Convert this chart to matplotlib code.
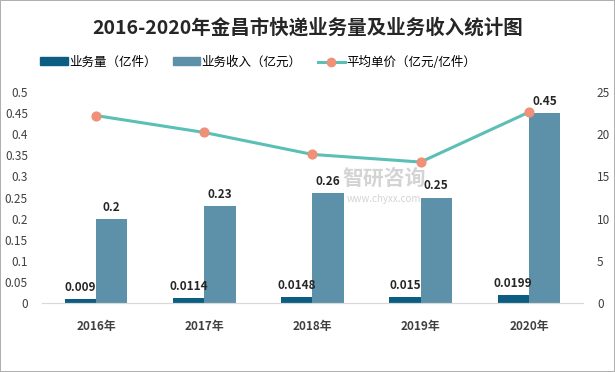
import numpy as np
import matplotlib
matplotlib.use("Agg")
from matplotlib import pyplot as plt
from matplotlib.patches import Patch
from matplotlib.lines import Line2D

plt.rcParams['font.family'] = ['Noto Sans CJK SC', 'DejaVu Sans']

# data
years = ["2016年", "2017年", "2018年", "2019年", "2020年"]
volume = [0.009, 0.0114, 0.0148, 0.015, 0.0199]        # 业务量（亿件）
revenue = [0.2, 0.23, 0.26, 0.25, 0.45]                # 业务收入（亿元）
unit_price = [22.2, 20.2, 17.6, 16.7, 22.6]            # 平均单价（亿元/亿件）
left_ticks = [0, 0.05, 0.1, 0.15, 0.2, 0.25, 0.3, 0.35, 0.4, 0.45, 0.5]
left_labels = ["0", "0.05", "0.1", "0.15", "0.2", "0.25", "0.3", "0.35", "0.4", "0.45", "0.5"]
right_ticks = [0, 5, 10, 15, 20, 25]

C_VOL = '#0b5e82'
C_REV = '#5d90a9'
C_LINE = '#5bbfb5'
C_MARK = '#ef9079'

fig = plt.figure(figsize=(6.15, 3.72), dpi=100, edgecolor='#b0b0b0', linewidth=1.2)
ax = fig.add_axes([0.068, 0.185, 0.88, 0.568])
ax2 = ax.twinx()

# watermark
fig.text(0.625, 0.52, "智研咨询", fontsize=15, color='#d4d4d4', ha='center', va='center',
         fontweight='bold', zorder=0)
fig.text(0.625, 0.465, "www.chyxx.com", fontsize=7, color='#d4d4d4', ha='center', va='center', zorder=0)

x = np.arange(len(years))
w = 0.29
ax.bar(x - w / 2, volume, w, color=C_VOL, zorder=2)
ax.bar(x + w / 2, revenue, w, color=C_REV, zorder=2)

for i in range(len(years)):
    ax.text(x[i] - w / 2, volume[i] + 0.012, str(volume[i]), ha='center', va='bottom',
            fontsize=8.5, fontweight='bold', color='#262626')
    ax.text(x[i] + w / 2, revenue[i] + 0.012, str(revenue[i]), ha='center', va='bottom',
            fontsize=8.5, fontweight='bold', color='#262626')

ax2.plot(x, unit_price, color=C_LINE, linewidth=2.2, zorder=3)
ax2.scatter(x, unit_price, s=40, color=C_MARK, zorder=4)

ax.set_xlim(-0.5, len(years) - 0.5)
ax.set_ylim(0, 0.5)
ax2.set_ylim(0, 25)
ax.set_yticks(left_ticks)
ax.set_yticklabels(left_labels)
ax2.set_yticks(right_ticks)
ax.set_xticks(x)
ax.set_xticklabels(years, fontweight='bold', fontsize=9, color='#262626')

for a in (ax, ax2):
    a.patch.set_visible(False)
    for s in ('top', 'left', 'right'):
        a.spines[s].set_visible(False)
    a.spines['bottom'].set_color('#d9d9d9')
    a.tick_params(length=0, labelsize=8.5, colors='#404040')
ax.tick_params(axis='x', pad=12)
ax.tick_params(axis='y', pad=10)
ax2.tick_params(axis='y', pad=10)

fig.text(0.5, 0.925, "2016-2020年金昌市快递业务量及业务收入统计图", ha='center', va='center',
         fontsize=14, fontweight='bold', color='#262626')

handles = [Patch(color=C_VOL), Patch(color=C_REV),
           Line2D([0], [0], color=C_LINE, linewidth=2.2, marker='o', markersize=6,
                  markerfacecolor=C_MARK, markeredgecolor=C_MARK)]
labels = ["业务量（亿件）", "业务收入（亿元）", "平均单价（亿元/亿件）"]
fig.legend(handles, labels, loc='center', bbox_to_anchor=(0.42, 0.833), ncol=3, frameon=False,
           fontsize=9, handlelength=2.2, handleheight=0.6, columnspacing=1.3, handletextpad=0.1)

fig.savefig("out.png", dpi=100)
